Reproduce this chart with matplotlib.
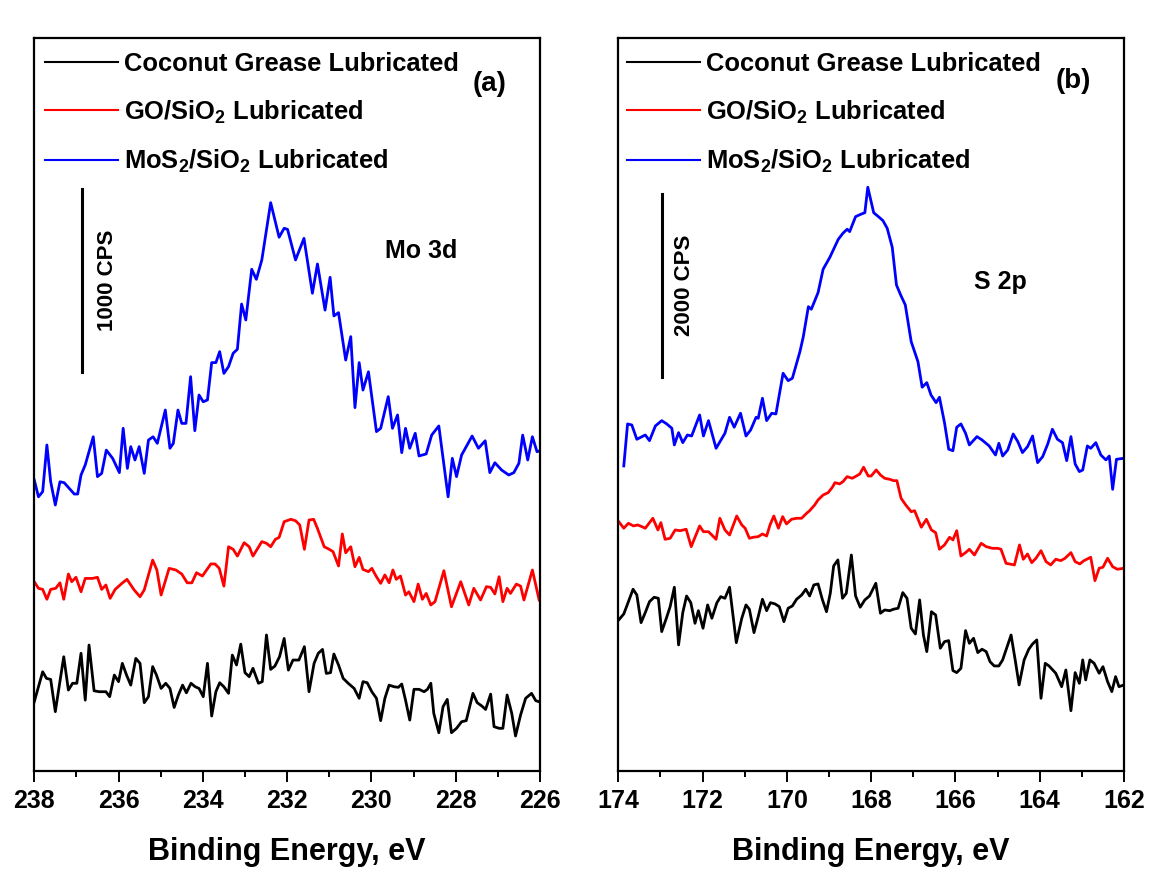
import matplotlib
matplotlib.use("Agg")
import matplotlib.pyplot as plt
from matplotlib.ticker import MultipleLocator
from matplotlib.lines import Line2D

plt.rcParams.update({
    "font.family": ["Liberation Sans", "DejaVu Sans"],
    "font.weight": "bold",
    "axes.labelweight": "bold",
    "mathtext.fontset": "custom",
    "mathtext.rm": "Liberation Sans:bold",
    "mathtext.it": "Liberation Sans:bold:italic",
    "mathtext.bf": "Liberation Sans:bold",
})

# ---------------- Mo 3d region (binding energy in eV, intensity in CPS, stacked) ----------------
mo_cg_energy = [238.00, 237.90, 237.80, 237.71, 237.61, 237.50, 237.41, 237.30, 237.19, 237.09,
                236.99, 236.89, 236.79, 236.70, 236.58, 236.46, 236.30, 236.21, 236.10, 236.00,
                235.91, 235.81, 235.71, 235.59, 235.49, 235.39, 235.29, 235.19, 235.10, 234.99,
                234.88, 234.78, 234.68, 234.58, 234.48, 234.39, 234.28, 234.18, 234.09, 233.99,
                233.89, 233.79, 233.69, 233.60, 233.50, 233.39, 233.30, 233.20, 233.10, 233.00,
                232.90, 232.81, 232.68, 232.59, 232.49, 232.39, 232.29, 232.18, 232.07, 231.97,
                231.86, 231.72, 231.59, 231.48, 231.36, 231.26, 231.16, 231.07, 230.97, 230.89,
                230.78, 230.67, 230.55, 230.41, 230.29, 230.20, 230.10, 229.99, 229.88, 229.78,
                229.68, 229.58, 229.46, 229.36, 229.28, 229.19, 229.09, 228.99, 228.87, 228.75,
                228.67, 228.59, 228.52, 228.40, 228.30, 228.20, 228.10, 227.98, 227.86, 227.75,
                227.59, 227.49, 227.38, 227.29, 227.17, 227.09, 226.97, 226.88, 226.78, 226.67,
                226.58, 226.46, 226.34, 226.20, 226.10, 226.02]
mo_cg_counts = [373, 455, 537, 501, 495, 319, 455, 619, 437, 474,
                474, 638, 382, 683, 433, 428, 428, 401, 519, 483,
                583, 519, 464, 610, 583, 368, 401, 565, 519, 446,
                474, 446, 342, 410, 464, 422, 474, 455, 446, 401,
                583, 295, 428, 477, 455, 419, 628, 574, 688, 532,
                510, 556, 474, 483, 738, 550, 568, 619, 719, 546,
                601, 601, 674, 428, 583, 638, 659, 528, 532, 634,
                574, 501, 474, 446, 392, 483, 477, 428, 392, 270,
                392, 464, 455, 452, 470, 382, 273, 441, 441, 428,
                441, 474, 310, 204, 346, 386, 204, 228, 264, 270,
                419, 368, 350, 331, 415, 237, 228, 228, 410, 310,
                186, 301, 392, 419, 379, 373]

mo_go_energy = [238.00, 237.90, 237.80, 237.70, 237.61, 237.49, 237.39, 237.30, 237.19, 237.11,
                237.01, 236.89, 236.79, 236.62, 236.50, 236.40, 236.30, 236.20, 236.08, 235.92,
                235.80, 235.63, 235.49, 235.39, 235.19, 235.09, 234.99, 234.80, 234.64, 234.50,
                234.37, 234.26, 234.15, 234.01, 233.81, 233.71, 233.61, 233.50, 233.39, 233.28,
                233.18, 233.02, 232.90, 232.81, 232.60, 232.49, 232.39, 232.28, 232.19, 232.07,
                231.91, 231.80, 231.70, 231.59, 231.48, 231.37, 231.28, 231.12, 231.00, 230.91,
                230.78, 230.69, 230.61, 230.49, 230.39, 230.29, 230.20, 230.07, 229.99, 229.88,
                229.78, 229.68, 229.58, 229.49, 229.41, 229.31, 229.19, 229.11, 228.99, 228.89,
                228.79, 228.70, 228.59, 228.49, 228.28, 228.10, 227.88, 227.69, 227.57, 227.41,
                227.27, 227.17, 227.07, 226.97, 226.88, 226.78, 226.70, 226.56, 226.46, 226.38,
                226.18, 226.02]
mo_go_counts = [1029, 993, 987, 933, 987, 993, 1023, 933, 1071, 1029,
                1053, 974, 1047, 1047, 1053, 987, 1011, 938, 987, 1020,
                1042, 984, 947, 984, 1147, 1093, 956, 1102, 1093, 1071,
                1023, 1023, 1078, 1060, 1126, 1126, 1102, 1005, 1220, 1206,
                1169, 1242, 1220, 1169, 1248, 1239, 1220, 1260, 1271, 1357,
                1370, 1362, 1339, 1206, 1366, 1370, 1320, 1220, 1206, 1193,
                1115, 1290, 1187, 1220, 1111, 1162, 1096, 1084, 1102, 1056,
                1020, 1066, 1023, 1093, 1042, 1060, 956, 974, 920, 1016,
                933, 965, 902, 920, 1089, 892, 1029, 902, 993, 929,
                1002, 998, 962, 1056, 920, 993, 965, 1016, 1005, 929,
                1093, 929]

mo_mos2_energy = [238.00, 237.90, 237.80, 237.70, 237.61, 237.50, 237.39, 237.29, 237.17, 237.05,
                  236.97, 236.89, 236.79, 236.60, 236.50, 236.40, 236.29, 236.14, 235.98, 235.89,
                  235.79, 235.71, 235.61, 235.51, 235.39, 235.29, 235.18, 235.08, 234.89, 234.78,
                  234.70, 234.59, 234.50, 234.40, 234.29, 234.19, 234.09, 233.99, 233.89, 233.79,
                  233.69, 233.60, 233.50, 233.39, 233.28, 233.18, 233.08, 232.98, 232.84, 232.73,
                  232.60, 232.39, 232.19, 232.07, 231.99, 231.80, 231.60, 231.40, 231.28, 231.10,
                  230.98, 230.89, 230.78, 230.61, 230.49, 230.39, 230.29, 230.20, 230.07, 229.88,
                  229.78, 229.60, 229.50, 229.38, 229.28, 229.19, 229.09, 228.96, 228.87, 228.70,
                  228.57, 228.40, 228.18, 228.08, 227.98, 227.86, 227.61, 227.46, 227.30, 227.19,
                  227.07, 226.91, 226.74, 226.62, 226.50, 226.41, 226.29, 226.18, 226.07, 226.00]
mo_mos2_counts = [1585, 1493, 1521, 1776, 1575, 1448, 1575, 1570, 1539, 1508,
                  1508, 1612, 1667, 1821, 1603, 1621, 1748, 1703, 1625, 1867,
                  1648, 1767, 1694, 1767, 1621, 1803, 1821, 1785, 1967, 1758,
                  1785, 1967, 1894, 1894, 2149, 1854, 2049, 2012, 2022, 2226,
                  2226, 2286, 2167, 2204, 2277, 2299, 2546, 2459, 2736, 2681,
                  2787, 3100, 2911, 2960, 2954, 2787, 2905, 2605, 2765, 2513,
                  2692, 2481, 2499, 2240, 2368, 1980, 2226, 2076, 2176, 1849,
                  1867, 2040, 1867, 1940, 1734, 1867, 1758, 1840, 1716, 1727,
                  1830, 1880, 1493, 1703, 1603, 1721, 1825, 1758, 1799, 1625,
                  1679, 1639, 1612, 1625, 1676, 1830, 1694, 1821, 1739, 1745]

# ---------------- S 2p region ----------------
s_cg_energy = [173.99, 173.87, 173.76, 173.65, 173.56, 173.46, 173.36, 173.26, 173.15, 173.05,
               172.97, 172.86, 172.77, 172.67, 172.57, 172.47, 172.38, 172.28, 172.18, 172.10,
               171.99, 171.88, 171.78, 171.66, 171.57, 171.47, 171.36, 171.27, 171.20, 171.07,
               170.97, 170.89, 170.78, 170.68, 170.58, 170.48, 170.39, 170.28, 170.18, 170.07,
               169.97, 169.87, 169.77, 169.65, 169.55, 169.46, 169.36, 169.26, 169.16, 169.06,
               168.97, 168.89, 168.79, 168.68, 168.59, 168.47, 168.37, 168.26, 168.15, 168.04,
               167.89, 167.78, 167.68, 167.56, 167.47, 167.36, 167.25, 167.15, 167.05, 166.95,
               166.85, 166.76, 166.68, 166.57, 166.47, 166.36, 166.26, 166.16, 166.06, 165.97,
               165.87, 165.76, 165.67, 165.57, 165.47, 165.37, 165.27, 165.18, 165.08, 164.97,
               164.88, 164.68, 164.58, 164.49, 164.37, 164.26, 164.17, 164.07, 163.97, 163.87,
               163.78, 163.62, 163.48, 163.38, 163.26, 163.16, 163.06, 162.98, 162.91, 162.81,
               162.71, 162.59, 162.50, 162.39, 162.29, 162.20, 162.12, 162.00]
s_cg_counts = [1621, 1686, 1821, 1957, 1894, 1591, 1701, 1821, 1869, 1858,
               1493, 1639, 1766, 1979, 1347, 1701, 1883, 1810, 1584, 1722,
               1530, 1785, 1639, 1810, 1876, 1858, 1979, 1639, 1372, 1639,
               1785, 1738, 1482, 1657, 1847, 1722, 1810, 1796, 1766, 1602,
               1749, 1774, 1847, 1894, 1957, 1883, 2004, 2015, 1847, 1711,
               1913, 2212, 2278, 1858, 1913, 2332, 1883, 1760, 1840, 1883,
               2022, 1694, 1730, 1722, 1738, 1749, 1920, 1858, 1530, 1467,
               1840, 1456, 1274, 1711, 1675, 1311, 1383, 1394, 1066, 1044,
               1091, 1504, 1365, 1420, 1263, 1300, 1274, 1164, 1117, 1117,
               1183, 1456, 1175, 909, 1183, 1300, 1358, 1402, 763, 1146,
               1117, 1037, 890, 1073, 627, 1044, 927, 1183, 964, 1183,
               1146, 1037, 1109, 945, 836, 1000, 890, 909]

s_go_energy = [173.99, 173.87, 173.76, 173.64, 173.54, 173.44, 173.36, 173.18, 173.06, 172.99,
               172.89, 172.77, 172.65, 172.53, 172.39, 172.27, 172.18, 172.07, 171.98, 171.86,
               171.68, 171.59, 171.47, 171.36, 171.19, 171.07, 170.99, 170.89, 170.80, 170.68,
               170.58, 170.48, 170.40, 170.31, 170.20, 170.10, 170.01, 169.89, 169.77, 169.65,
               169.55, 169.46, 169.34, 169.26, 169.14, 169.02, 168.92, 168.86, 168.75, 168.67,
               168.57, 168.45, 168.35, 168.27, 168.18, 168.07, 168.00, 167.88, 167.78, 167.68,
               167.56, 167.47, 167.39, 167.29, 167.18, 167.05, 166.97, 166.81, 166.69, 166.57,
               166.47, 166.38, 166.26, 166.14, 166.06, 165.97, 165.87, 165.76, 165.67, 165.55,
               165.39, 165.27, 165.12, 165.00, 164.92, 164.80, 164.72, 164.60, 164.48, 164.39,
               164.29, 164.19, 164.09, 163.97, 163.85, 163.74, 163.62, 163.50, 163.40, 163.26,
               163.16, 163.05, 162.95, 162.79, 162.69, 162.59, 162.50, 162.39, 162.27, 162.16,
               162.00]
s_go_counts = [2697, 2625, 2679, 2650, 2661, 2642, 2625, 2734, 2606, 2686,
               2504, 2515, 2606, 2598, 2614, 2423, 2526, 2650, 2587, 2587,
               2504, 2734, 2606, 2551, 2759, 2661, 2625, 2515, 2526, 2533,
               2562, 2540, 2661, 2759, 2625, 2752, 2672, 2723, 2734, 2734,
               2781, 2817, 2880, 2935, 2989, 3015, 3074, 3124, 3110, 3135,
               3190, 3172, 3197, 3219, 3293, 3197, 3197, 3263, 3208, 3172,
               3161, 3146, 3146, 2953, 2880, 2806, 2817, 2636, 2723, 2606,
               2577, 2395, 2442, 2526, 2497, 2598, 2321, 2358, 2395, 2332,
               2460, 2423, 2405, 2405, 2395, 2241, 2234, 2223, 2442, 2285,
               2343, 2248, 2296, 2379, 2259, 2223, 2285, 2270, 2296, 2358,
               2259, 2234, 2270, 2307, 2051, 2187, 2198, 2296, 2204, 2176,
               2187]

s_mos2_energy = [173.87, 173.78, 173.68, 173.56, 173.36, 173.26, 173.12, 172.97, 172.85, 172.73,
                 172.67, 172.57, 172.47, 172.36, 172.26, 172.07, 171.98, 171.86, 171.68, 171.47,
                 171.36, 171.25, 171.10, 170.97, 170.86, 170.73, 170.68, 170.58, 170.48, 170.36,
                 170.26, 170.09, 169.97, 169.87, 169.69, 169.61, 169.49, 169.42, 169.26, 169.14,
                 168.98, 168.78, 168.67, 168.57, 168.51, 168.37, 168.23, 168.15, 168.08, 167.94,
                 167.81, 167.72, 167.62, 167.50, 167.40, 167.30, 167.19, 167.05, 166.89, 166.79,
                 166.68, 166.58, 166.46, 166.38, 166.26, 166.16, 166.06, 165.97, 165.87, 165.76,
                 165.67, 165.49, 165.37, 165.20, 165.05, 164.97, 164.88, 164.76, 164.63, 164.52,
                 164.41, 164.29, 164.17, 164.05, 163.93, 163.81, 163.70, 163.58, 163.46, 163.36,
                 163.26, 163.16, 163.06, 162.98, 162.87, 162.79, 162.67, 162.55, 162.43, 162.35,
                 162.27, 162.18, 162.00]
s_mos2_counts = [3307, 3767, 3756, 3599, 3646, 3584, 3745, 3803, 3767, 3720,
                 3537, 3672, 3562, 3646, 3635, 3865, 3635, 3803, 3500, 3665,
                 3840, 3731, 3884, 3635, 3701, 3840, 3829, 4048, 3803, 3884,
                 3876, 4322, 4241, 4267, 4559, 4723, 5051, 5023, 5205, 5461,
                 5592, 5789, 5855, 5899, 5873, 6037, 6066, 6080, 6359, 6080,
                 6030, 5993, 5910, 5702, 5289, 5179, 5070, 4668, 4449, 4169,
                 4219, 4084, 4000, 4059, 3781, 3490, 3474, 3731, 3767, 3665,
                 3537, 3628, 3592, 3526, 3427, 3555, 3416, 3482, 3657, 3573,
                 3453, 3518, 3635, 3343, 3409, 3548, 3709, 3599, 3562, 3365,
                 3628, 3329, 3245, 3263, 3526, 3500, 3562, 3427, 3373, 3416,
                 3051, 3380, 3391]

series_labels = ["Coconut Grease Lubricated",
                 r"GO/SiO$_2$ Lubricated",
                 r"MoS$_2$/SiO$_2$ Lubricated"]
series_colors = ["#000000", "#ff0000", "#0000ff"]

mo_ticks = [238, 236, 234, 232, 230, 228, 226]
s_ticks = [174, 172, 170, 168, 166, 164, 162]
mo_scale_cps = 1000
s_scale_cps = 2000

fig = plt.figure(figsize=(11.57, 8.88), dpi=100)
ax_mo = fig.add_axes([0.0296, 0.1318, 0.4371, 0.8255])
ax_s = fig.add_axes([0.5344, 0.1318, 0.4371, 0.8255])


def style_axis(ax, ticks):
    ax.set_xlim(ticks[0], ticks[-1])
    ax.xaxis.set_major_locator(MultipleLocator(2))
    ax.xaxis.set_minor_locator(MultipleLocator(1))
    ax.set_xticks(ticks)
    ax.set_xticklabels([str(t) for t in ticks])
    ax.tick_params(axis="x", which="major", direction="out", length=8, width=1.4,
                   labelsize=18, pad=5, top=False)
    ax.tick_params(axis="x", which="minor", direction="out", length=4, width=1.4, top=False)
    ax.tick_params(axis="y", which="both", left=False, right=False, labelleft=False)
    for sp in ax.spines.values():
        sp.set_linewidth(1.6)
    ax.set_xlabel("Binding Energy, eV", fontsize=22, fontweight="bold", labelpad=17)


def add_legend(ax, x0):
    handles = [Line2D([], [], color=c, lw=1.5) for c in series_colors]
    ax.legend(handles, series_labels, loc="upper left", bbox_to_anchor=(x0, 0.981),
              frameon=False, fontsize=18.4, handlelength=2.85, handletextpad=0.25,
              labelspacing=0.88, borderpad=0, borderaxespad=0)


# Mo 3d panel
for e, c, col in zip([mo_cg_energy, mo_go_energy, mo_mos2_energy],
                     [mo_cg_counts, mo_go_counts, mo_mos2_counts], series_colors):
    ax_mo.plot(e, c, color=col, lw=2.0)
ax_mo.set_ylim(-5, 4000)
style_axis(ax_mo, mo_ticks)
add_legend(ax_mo, 0.021)
ax_mo.plot([236.87, 236.87], [2175, 2175 + mo_scale_cps], color="k", lw=2.2)
ax_mo.text(236.27, 2175 + mo_scale_cps / 2, f"{mo_scale_cps} CPS", rotation=90,
           ha="center", va="center", fontsize=16)
ax_mo.text(0.765, 0.709, "Mo 3d", transform=ax_mo.transAxes, ha="center", va="center",
           fontsize=18)
ax_mo.text(0.90, 0.937, "(a)", transform=ax_mo.transAxes, ha="center", va="center",
           fontsize=20)

# S 2p panel
for e, c, col in zip([s_cg_energy, s_go_energy, s_mos2_energy],
                     [s_cg_counts, s_go_counts, s_mos2_counts], series_colors):
    ax_s.plot(e, c, color=col, lw=2.0)
ax_s.set_ylim(-33, 7994)
style_axis(ax_s, s_ticks)
add_legend(ax_s, 0.0172)
ax_s.plot([172.96, 172.96], [4281, 4281 + s_scale_cps], color="k", lw=2.2)
ax_s.text(172.42, 4281 + s_scale_cps / 2, f"{s_scale_cps} CPS", rotation=90,
          ha="center", va="center", fontsize=16)
ax_s.text(0.755, 0.667, "S 2p", transform=ax_s.transAxes, ha="center", va="center",
          fontsize=18)
ax_s.text(0.900, 0.941, "(b)", transform=ax_s.transAxes, ha="center", va="center",
          fontsize=20)

fig.savefig("out.png", dpi=100)
